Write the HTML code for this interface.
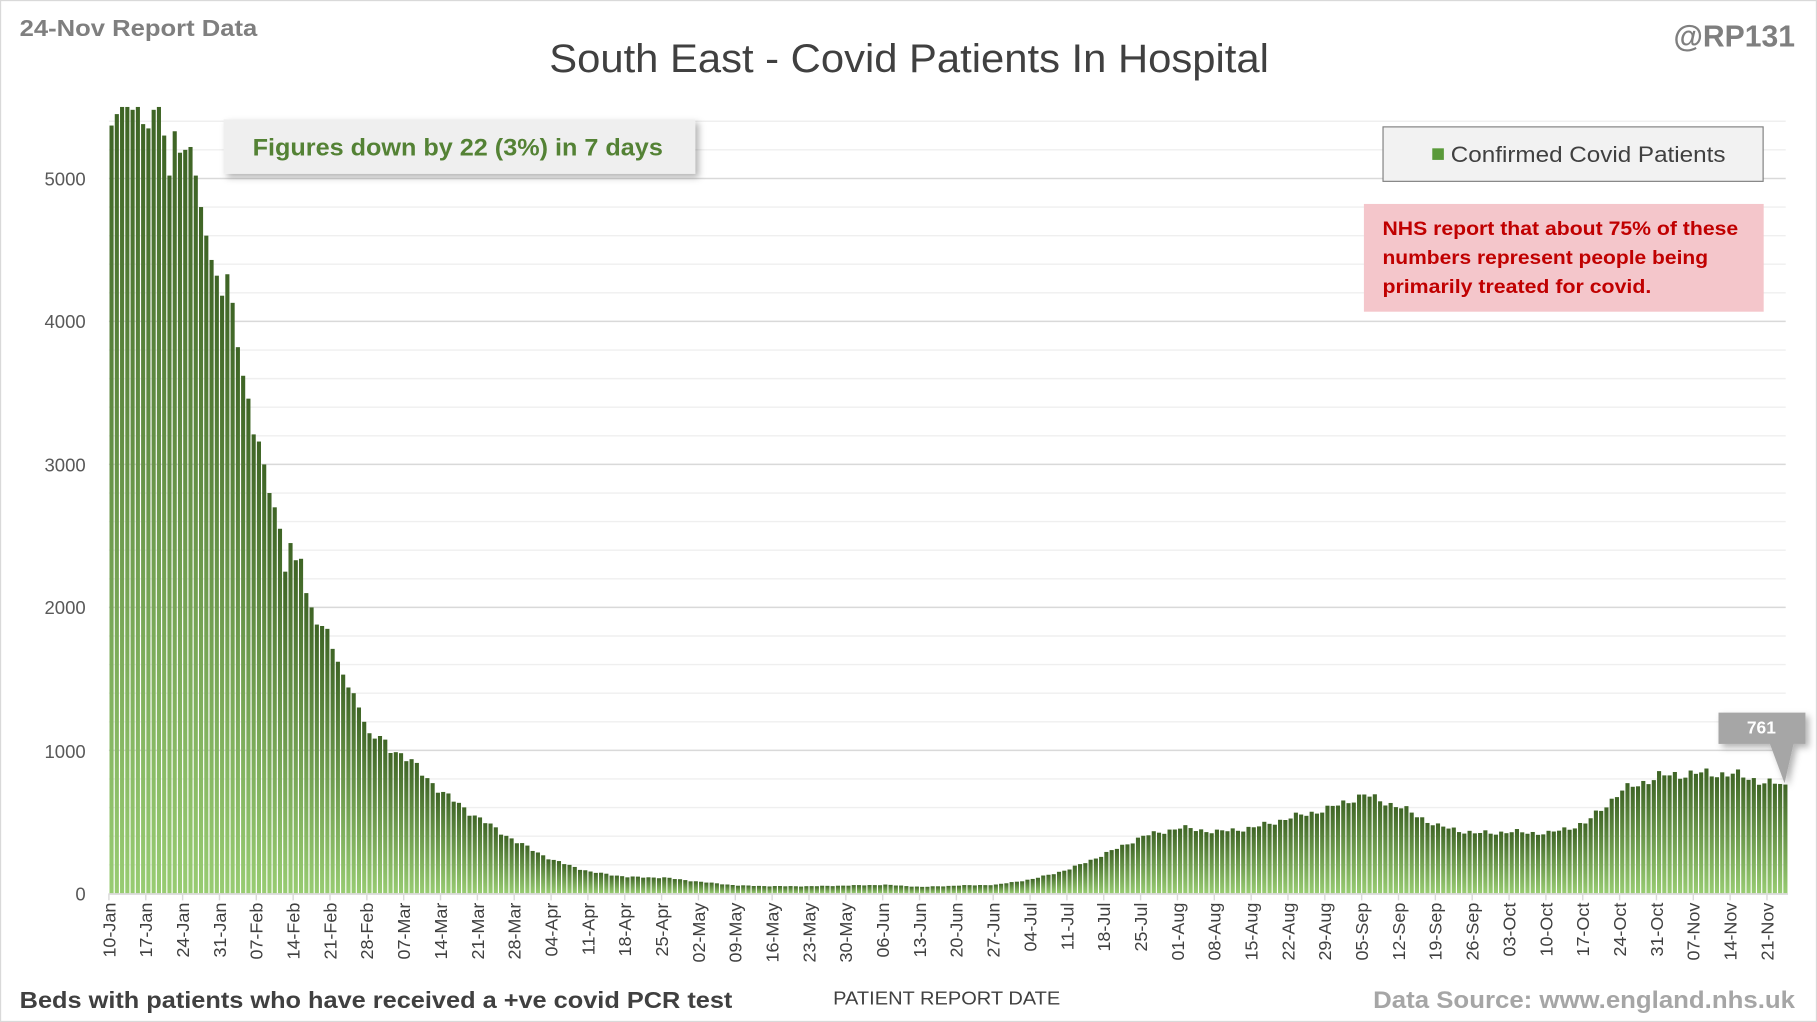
<!DOCTYPE html>
<html><head><meta charset="utf-8"><style>html,body{margin:0;padding:0;background:#fff}svg{display:block}</style></head>
<body>
<svg id="s" width="1817" height="1022" viewBox="0 0 1568 882" preserveAspectRatio="none" xmlns="http://www.w3.org/2000/svg" font-family="'Liberation Sans', sans-serif">
<defs>
<linearGradient id="g" x1="0" y1="0" x2="0" y2="1"><stop offset="0" stop-color="#3e6425"/><stop offset="1" stop-color="#98cc72"/></linearGradient>
<filter id="sh" x="-10%" y="-20%" width="130%" height="160%"><feDropShadow dx="3" dy="3" stdDeviation="3" flood-color="#000" flood-opacity="0.3"/></filter>
</defs>
<rect x="0.5" y="0.5" width="1567" height="881" fill="#fff" stroke="#d9d9d9"/>
<g id="grid"></g>
<g id="bars"></g>
<g id="xl" font-size="15.5" fill="#404040"></g>
<g font-size="16" fill="#595959" text-anchor="end">
<text x="74" y="160">5000</text><text x="74" y="283">4000</text><text x="74" y="407">3000</text><text x="74" y="530">2000</text><text x="74" y="654">1000</text><text x="74" y="777">0</text>
</g>
<text x="17" y="31" font-size="20" font-weight="bold" fill="#7f7f7f" textLength="205" lengthAdjust="spacingAndGlyphs">24-Nov Report Data</text>
<text x="474" y="62" font-size="34" fill="#404040" textLength="621" lengthAdjust="spacingAndGlyphs">South East - Covid Patients In Hospital</text>
<text x="1549" y="40" font-size="26" font-weight="bold" fill="#7f7f7f" text-anchor="end">@RP131</text>
<rect x="193" y="103" width="407" height="47" fill="#efefef" filter="url(#sh)"/>
<text x="218" y="134" font-size="21" font-weight="bold" fill="#548235" textLength="354" lengthAdjust="spacingAndGlyphs">Figures down by 22 (3%) in 7 days</text>
<rect x="1193.5" y="109.5" width="328" height="47" fill="#f2f2f2" stroke="#7f7f7f"/>
<rect x="1236" y="128" width="10" height="10" fill="#5a9a3a"/>
<text x="1252" y="140" font-size="19" fill="#404040" textLength="237" lengthAdjust="spacingAndGlyphs">Confirmed Covid Patients</text>
<rect x="1177" y="176" width="345" height="93" fill="#f4c6cb"/>
<g font-size="17" font-weight="bold" fill="#c00000">
<text x="1193" y="203" textLength="307" lengthAdjust="spacingAndGlyphs">NHS report that about 75% of these</text>
<text x="1193" y="228" textLength="281" lengthAdjust="spacingAndGlyphs">numbers represent people being</text>
<text x="1193" y="253" textLength="232" lengthAdjust="spacingAndGlyphs">primarily treated for covid.</text>
</g>
<g filter="url(#sh)"><rect x="1483" y="615" width="75" height="27" fill="#a6a6a6"/><polygon points="1527,641 1548,641 1540,676" fill="#a6a6a6"/></g>
<text x="1520" y="633" font-size="15" font-weight="bold" fill="#fff" text-anchor="middle">761</text>
<text x="17" y="870" font-size="20" font-weight="bold" fill="#404040" textLength="615" lengthAdjust="spacingAndGlyphs">Beds with patients who have received a +ve covid PCR test</text>
<text x="817" y="867" font-size="16" fill="#404040" text-anchor="middle" textLength="196" lengthAdjust="spacingAndGlyphs">PATIENT REPORT DATE</text>
<text x="1549" y="870" font-size="21" font-weight="bold" fill="#a6a6a6" text-anchor="end" textLength="364" lengthAdjust="spacingAndGlyphs">Data Source: www.england.nhs.uk</text>
</svg>
<script>
var NS="http://www.w3.org/2000/svg";
function el(p,t,a,txt){var e=document.createElementNS(NS,t);for(var k in a)e.setAttribute(k,a[k]);if(txt)e.textContent=txt;document.getElementById(p).appendChild(e);return e;}
var y0=771,k=0.1234,x0=94,N=319,w=(1543-94)/N;
for(var v=200;v<=5400;v+=200){var y=y0-v*k;el("grid","line",{x1:x0,x2:1541,y1:y,y2:y,stroke:v%1000==0?"#d9d9d9":"#efefef","stroke-width":v%1000==0?1.3:1.2});}
var early=[5370,5450,5500,5500,5480,5500,5380,5350,5480,5500,5300,5020,5330,5180,5200,5220,5020,4800,4600,4430,4320,4180,4330,4130,3820,3620,3460,3210,3160,3000,2800,2700,2550,2250,2450,2330,2340,2100,2000,1880,1870,1850,1710,1620,1530,1440,1400,1300,1200,1120];
var wk=[[49,1120],[56,950],[63,700],[70,520],[77,360],[84,230],[91,150],[98,115],[105,110],[112,80],[119,55],[126,50],[133,50],[140,55],[147,60],[154,45],[161,55],[168,60],[175,100],[182,170],[189,280],[196,400],[203,460],[210,430],[217,460],[224,530],[231,590],[238,690],[245,600],[252,470],[259,420],[266,430],[273,420],[280,490],[287,720],[294,820],[301,840],[308,835],[315,770],[318,761]];
function interp(i){for(var j=0;j<wk.length-1;j++){if(i>=wk[j][0]&&i<=wk[j+1][0]){var t=(i-wk[j][0])/(wk[j+1][0]-wk[j][0]);return wk[j][1]+t*(wk[j+1][1]-wk[j][1]);}}return 761;}
for(var i=0;i<N;i++){var v=i<early.length?early[i]:interp(i);if(i>=early.length&&i<318){v*=1+0.03*Math.sin(i*2.1)+0.02*Math.sin(i*0.9);}
var h=v*k;el("bars","rect",{x:x0+i*w+0.5,y:y0-h,width:w-1,height:h,fill:"url(#g)"});}
el("bars","line",{x1:x0,x2:1543,y1:y0+0.5,y2:y0+0.5,stroke:"#d9d9d9","stroke-width":1.5});
var mn=["Jan","Feb","Mar","Apr","May","Jun","Jul","Aug","Sep","Oct","Nov"],ml=[31,28,31,30,31,30,31,31,30,31,30];
var m=0,d=10;
for(var i=0;i<=315;i+=7){var x=x0+i*w;el("bars","line",{x1:x,x2:x,y1:y0,y2:y0+6,stroke:"#d9d9d9","stroke-width":1.2});
var lab=(d<10?"0":"")+d+"-"+mn[m];el("xl","text",{transform:"translate("+(x+5.5)+","+(y0+8)+") rotate(-90)","text-anchor":"end"},lab);
d+=7;if(d>ml[m]){d-=ml[m];m++;}}
</script>
</body></html>
